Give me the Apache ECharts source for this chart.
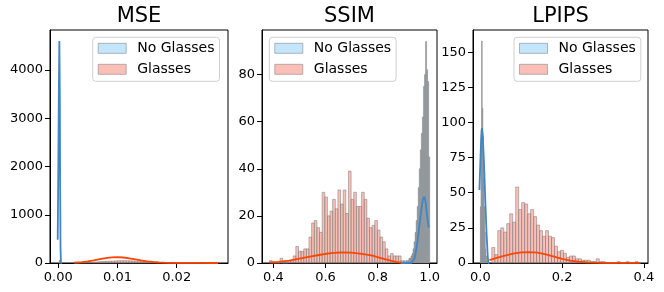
<!DOCTYPE html>
<html><head><meta charset="utf-8">
<script src="https://cdn.jsdelivr.net/npm/echarts@6/dist/echarts.min.js"></script>
<style>html,body{margin:0;padding:0;background:#fff}#c{width:664px;height:292px}</style>
</head><body><div id="c"></div>
<script>
const panelTitles = ['MSE', 'SSIM', 'LPIPS'];
const legendNames = ['No Glasses', 'Glasses'];

// ---------- MSE ----------
const mseNoGlassesBinStart = 0.0001;
const mseNoGlassesBinWidth = 0.00005;
const mseNoGlassesCounts = [20, 45, 60, 40, 20, 8];
const mseGlassesBinStart = 0.0027;
const mseGlassesBinWidth = 0.000486;
const mseGlassesCounts = [2,3,4,6,9,12,15,19,24,28,32,35,38,41,44,46,47,48,47,45,43,40,37,33,29,25,21,17,14,11,9,7,5,4,3,3,2,2,1,1,1,1,0,1,0,0,1,0,0,1];
const mseNoGlassesKde = [[-0.0001,480],[0.0,1900],[0.0001,3600],[0.00018,4600],[0.00026,3500],[0.00032,1500],[0.00038,300],[0.00045,0],[0.0006,0]];
const mseGlassesKde = [[0.0027,8],[0.004,20],[0.005,35],[0.006,55],[0.007,78],[0.008,100],[0.009,115],[0.010,120],[0.011,114],[0.012,98],[0.013,76],[0.014,54],[0.015,35],[0.016,21],[0.017,12],[0.018,7],[0.019,4],[0.020,3],[0.022,2],[0.024,1],[0.027,0.5]];
const mseXTicks = [0, 0.01, 0.02];
const mseYTicks = [0, 1000, 2000, 3000, 4000];

// ---------- SSIM ----------
const ssimNoGlassesBinStart = 0.888;
const ssimNoGlassesBinWidth = 0.004;
const ssimNoGlassesCounts = [1,0,1,1,0,1,1,1,2,2,3,4,6,9,13,18,24,32,40,48,55,62,75,80,94,82,77,45];
const ssimGlassesBinStart = 0.385;
const ssimGlassesBinWidth = 0.0101;
const ssimGlassesCounts = [1,0,0,0,2,0,0,1,1,3,7,5,5,6,6,11,17,18,15,13,30,28,20,22,27,23,31,25,31,21,39,27,30,24,24,30,27,19,15,16,18,14,11,9,6,3,4,3,3,3];
const ssimNoGlassesKde = [[0.89,0],[0.93,0.1],[0.936,0.5],[0.942,2],[0.949,6],[0.955,11],[0.962,17.5],[0.968,23],[0.974,27],[0.979,28.2],[0.984,26],[0.988,22],[0.992,18],[0.996,15]];
const ssimGlassesKde = [[0.385,0.25],[0.42,0.5],[0.46,1.0],[0.50,1.9],[0.54,2.7],[0.58,3.5],[0.62,4.2],[0.66,4.5],[0.70,4.4],[0.74,3.9],[0.78,3.1],[0.82,1.9],[0.85,1.0],[0.87,0.5],[0.89,0.2]];
const ssimXTicks = [0.4, 0.6, 0.8, 1.0];
const ssimYTicks = [0, 20, 40, 60, 80];

// ---------- LPIPS ----------
const lpipsNoGlassesBinStart = 0.0;
const lpipsNoGlassesBinWidth = 0.0015;
const lpipsNoGlassesCounts = [40,95,158,110,90,60,40,22,10,5,2,1];
const lpipsGlassesBinStart = 0.028;
const lpipsGlassesBinWidth = 0.0073;
const lpipsGlassesCounts = [11,6,23,25,22,28,35,29,54,38,43,42,35,38,33,27,23,19,23,19,18,12,8,9,7,4,5,5,3,3,2,2,2,1,1,3,1,1,0,0,0,0,1,0,0,1,0,0,1,0];
const lpipsNoGlassesKde = [[-0.0024,52],[0.0,72],[0.002,88],[0.004,96],[0.006,90],[0.009,70],[0.012,45],[0.015,22],[0.018,5],[0.0195,0],[0.022,0]];
const lpipsGlassesKde = [[0.022,2.0],[0.04,3.6],[0.06,5.2],[0.08,6.6],[0.10,7.5],[0.12,7.8],[0.14,7.4],[0.16,6.2],[0.18,4.6],[0.20,3.0],[0.22,1.7],[0.24,0.9],[0.26,0.45],[0.28,0.25],[0.30,0.15],[0.33,0.1],[0.36,0.06],[0.39,0.02]];
const lpipsXTicks = [0.0, 0.2, 0.4];
const lpipsYTicks = [0, 25, 50, 75, 100, 125, 150];

// ---------- layout / style ----------
const FONT = 'DejaVu Sans';
const grids = [
  {left: 50, top: 30, width: 178, height: 233},
  {left: 262, top: 30, width: 175, height: 233},
  {left: 473, top: 30, width: 175, height: 233}
];
const xRanges = [[-0.0014, 0.02867], [0.356, 1.028], [-0.018, 0.41]];
const yMax = [4830, 98.9, 165.8];
const xDecimals = [2, 1, 1];
const legendPos = [[92.7, 37.3], [269.3, 37.3], [514, 37.3]];

const panels = [
  {ng: [mseNoGlassesBinStart, mseNoGlassesBinWidth, mseNoGlassesCounts], g: [mseGlassesBinStart, mseGlassesBinWidth, mseGlassesCounts], ngK: mseNoGlassesKde, gK: mseGlassesKde, xt: mseXTicks, yt: mseYTicks},
  {ng: [ssimNoGlassesBinStart, ssimNoGlassesBinWidth, ssimNoGlassesCounts], g: [ssimGlassesBinStart, ssimGlassesBinWidth, ssimGlassesCounts], ngK: ssimNoGlassesKde, gK: ssimGlassesKde, xt: ssimXTicks, yt: ssimYTicks},
  {ng: [lpipsNoGlassesBinStart, lpipsNoGlassesBinWidth, lpipsNoGlassesCounts], g: [lpipsGlassesBinStart, lpipsGlassesBinWidth, lpipsGlassesCounts], ngK: lpipsNoGlassesKde, gK: lpipsGlassesKde, xt: lpipsXTicks, yt: lpipsYTicks}
];

const ngBarStyle = {fill: '#8e9398', stroke: '#8e9398', lineWidth: 0.6};
const gBarStyle = {fill: 'rgba(250,128,114,0.5)', stroke: 'rgba(128,128,128,0.55)', lineWidth: 1};
const blueLine = '#4285c4';
const orangeLine = '#ff4500';

function bins(spec) {
  const [start, width, counts] = spec;
  return counts.map((c, k) => [start + k * width, start + (k + 1) * width, c]);
}
function histSeries(name, i, spec, style) {
  return {
    type: 'custom', name: name, xAxisIndex: i, yAxisIndex: i,
    encode: {x: [0, 1], y: 2},
    data: bins(spec),
    renderItem: function (params, api) {
      const p0 = api.coord([api.value(0), api.value(2)]);
      const p1 = api.coord([api.value(1), 0]);
      return {type: 'rect', shape: {x: p0[0], y: p0[1], width: p1[0] - p0[0], height: p1[1] - p0[1]}, style: style};
    }
  };
}
function kdeSeries(name, i, data, color) {
  return {type: 'line', name: name, xAxisIndex: i, yAxisIndex: i, data: data, symbol: 'none', smooth: false,
    lineStyle: {color: color, width: 1.8}, z: 3};
}

const series = [];
panels.forEach((p, i) => {
  series.push(histSeries(legendNames[0], i, p.ng, ngBarStyle));
  series.push(kdeSeries('No Glasses KDE', i, p.ngK, blueLine));
  series.push(histSeries(legendNames[1], i, p.g, gBarStyle));
  series.push(kdeSeries('Glasses KDE', i, p.gK, orangeLine));
});

const axisText = {fontSize: 13, color: '#000', fontFamily: FONT};
const option = {
  animation: false,
  backgroundColor: '#fff',
  title: panelTitles.map((t, i) => ({
    text: t, left: grids[i].left + grids[i].width / 2, top: 6, textAlign: 'center', padding: 0,
    textStyle: {fontSize: 21, fontWeight: 'normal', fontFamily: FONT, color: '#000'}
  })),
  grid: grids.map(g => Object.assign({show: true, borderColor: '#000', borderWidth: 1, backgroundColor: 'transparent'}, g)),
  xAxis: panels.map((p, i) => ({
    gridIndex: i, type: 'value', min: xRanges[i][0], max: xRanges[i][1],
    axisLine: {show: true, onZero: false, lineStyle: {color: '#000', width: 1}},
    axisTick: {show: true, length: 5, customValues: p.xt, lineStyle: {color: '#000', width: 1}},
    axisLabel: Object.assign({customValues: p.xt, margin: 8, formatter: v => Number(v).toFixed(xDecimals[i])}, axisText),
    splitLine: {show: false}
  })),
  yAxis: panels.map((p, i) => ({
    gridIndex: i, type: 'value', min: 0, max: yMax[i],
    axisLine: {show: true, onZero: false, lineStyle: {color: '#000', width: 1}},
    axisTick: {show: true, length: 5, customValues: p.yt, lineStyle: {color: '#000', width: 1}},
    axisLabel: Object.assign({customValues: p.yt, margin: 7, formatter: v => String(Math.round(v))}, axisText),
    splitLine: {show: false}
  })),
  legend: legendPos.map(pos => ({
    left: pos[0], top: pos[1], orient: 'vertical', icon: 'rect',
    itemWidth: 28, itemHeight: 10, itemGap: 7,
    padding: [4, 5, 5, 5],
    backgroundColor: 'rgba(255,255,255,0.8)', borderColor: '#d0d0d0', borderWidth: 1, borderRadius: 3,
    formatter: name => '{n|' + name + '}',
    textStyle: {fontSize: 14, color: '#000', fontFamily: FONT,
      rich: {n: {fontSize: 14, color: '#000', fontFamily: FONT, padding: [0, 0, 0, 6]}}},
    selectedMode: false,
    data: [
      {name: legendNames[0], itemStyle: {color: 'rgba(135,206,250,0.5)', borderColor: 'rgba(128,128,128,0.55)', borderWidth: 1}},
      {name: legendNames[1], itemStyle: {color: 'rgba(250,128,114,0.5)', borderColor: 'rgba(128,128,128,0.55)', borderWidth: 1}}
    ]
  })),
  series: series
};
const chart = echarts.init(document.getElementById('c'), null, {renderer: 'canvas'});
chart.setOption(option);
</script>
</body></html>
